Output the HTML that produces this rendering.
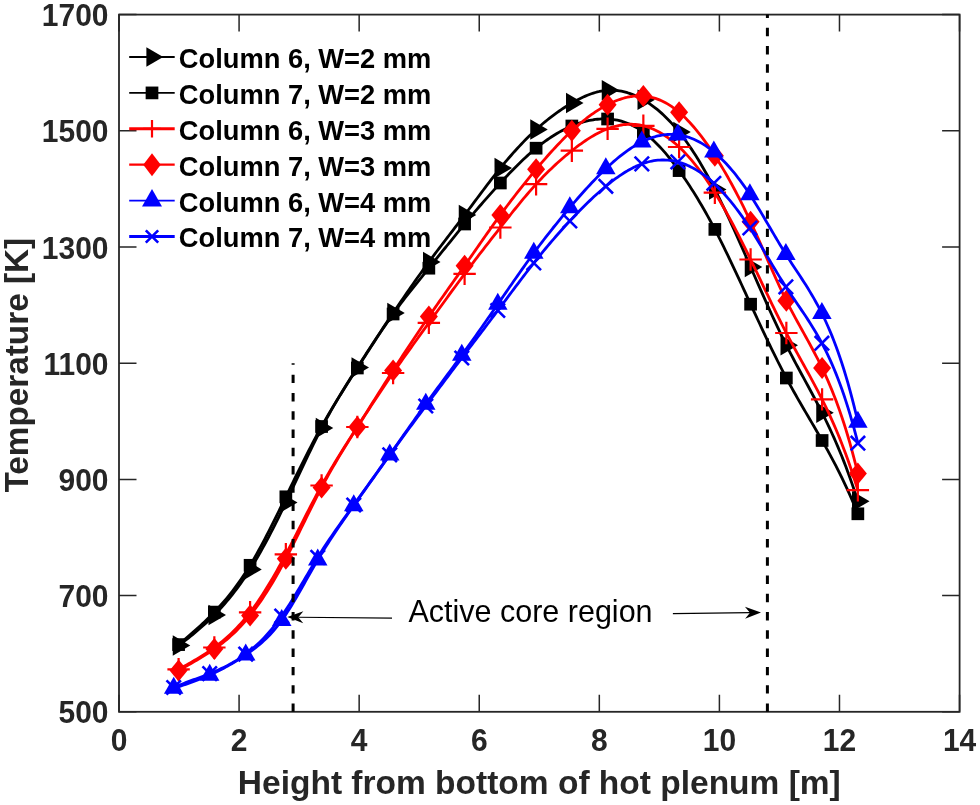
<!DOCTYPE html><html><head><meta charset="utf-8"><style>html,body{margin:0;padding:0;background:#fff;}svg{display:block;}text{font-family:"Liberation Sans",sans-serif;filter:grayscale(1);}</style></head><body>
<svg width="980" height="805" viewBox="0 0 980 805">
<rect width="980" height="805" fill="#fff"/>
<path d="M119.00,711.80V694.80M119.00,14.60V31.60M239.08,711.80V694.80M239.08,14.60V31.60M359.16,711.80V694.80M359.16,14.60V31.60M479.24,711.80V694.80M479.24,14.60V31.60M599.32,711.80V694.80M599.32,14.60V31.60M719.40,711.80V694.80M719.40,14.60V31.60M839.48,711.80V694.80M839.48,14.60V31.60M959.56,711.80V694.80M959.56,14.60V31.60M119.00,711.80H136.50M959.60,711.80H942.10M119.00,595.60H136.50M959.60,595.60H942.10M119.00,479.40H136.50M959.60,479.40H942.10M119.00,363.20H136.50M959.60,363.20H942.10M119.00,247.00H136.50M959.60,247.00H942.10M119.00,130.80H136.50M959.60,130.80H942.10M119.00,14.60H136.50M959.60,14.60H942.10" stroke="#262626" stroke-width="1.5" fill="none"/>
<rect x="119.00" y="14.60" width="840.60" height="697.20" stroke="#262626" stroke-width="1.8" fill="none"/>
<text transform="translate(119.00,751.20) scale(1,1.045)" font-size="30.00" font-weight="bold" fill="#262626" text-anchor="middle">0</text>
<text transform="translate(239.08,751.20) scale(1,1.045)" font-size="30.00" font-weight="bold" fill="#262626" text-anchor="middle">2</text>
<text transform="translate(359.16,751.20) scale(1,1.045)" font-size="30.00" font-weight="bold" fill="#262626" text-anchor="middle">4</text>
<text transform="translate(479.24,751.20) scale(1,1.045)" font-size="30.00" font-weight="bold" fill="#262626" text-anchor="middle">6</text>
<text transform="translate(599.32,751.20) scale(1,1.045)" font-size="30.00" font-weight="bold" fill="#262626" text-anchor="middle">8</text>
<text transform="translate(719.40,751.20) scale(1,1.045)" font-size="30.00" font-weight="bold" fill="#262626" text-anchor="middle">10</text>
<text transform="translate(839.48,751.20) scale(1,1.045)" font-size="30.00" font-weight="bold" fill="#262626" text-anchor="middle">12</text>
<text transform="translate(959.56,751.20) scale(1,1.045)" font-size="30.00" font-weight="bold" fill="#262626" text-anchor="middle">14</text>
<text transform="translate(108.50,723.40) scale(1,1.045)" font-size="30.00" font-weight="bold" fill="#262626" text-anchor="end">500</text>
<text transform="translate(108.50,607.20) scale(1,1.045)" font-size="30.00" font-weight="bold" fill="#262626" text-anchor="end">700</text>
<text transform="translate(108.50,491.00) scale(1,1.045)" font-size="30.00" font-weight="bold" fill="#262626" text-anchor="end">900</text>
<text transform="translate(108.50,374.80) scale(1,1.045)" font-size="30.00" font-weight="bold" fill="#262626" text-anchor="end">1100</text>
<text transform="translate(108.50,258.60) scale(1,1.045)" font-size="30.00" font-weight="bold" fill="#262626" text-anchor="end">1300</text>
<text transform="translate(108.50,142.40) scale(1,1.045)" font-size="30.00" font-weight="bold" fill="#262626" text-anchor="end">1500</text>
<text transform="translate(108.50,26.20) scale(1,1.045)" font-size="30.00" font-weight="bold" fill="#262626" text-anchor="end">1700</text>
<text transform="translate(539.30,793.90) scale(1,1.000)" font-size="33.50" font-weight="bold" fill="#262626" text-anchor="middle">Height from bottom of hot plenum [m]</text>
<text transform="translate(28.0,365.2) rotate(-90) scale(1,0.985)" font-size="33.3" font-weight="bold" fill="#262626" text-anchor="middle">Temperature [K]</text>
<path d="M178.60,645.50 L180.60,643.99 L182.61,642.47 L184.61,640.94 L186.61,639.38 L188.62,637.80 L190.62,636.20 L192.63,634.58 L194.63,632.93 L196.63,631.25 L198.64,629.55 L200.64,627.81 L202.64,626.03 L204.65,624.23 L206.65,622.38 L208.66,620.49 L210.66,618.57 L212.66,616.59 L214.67,614.58 L216.67,612.52 L218.67,610.40 L220.68,608.24 L222.68,606.02 L224.68,603.75 L226.69,601.43 L228.69,599.04 L230.70,596.60 L232.70,594.09 L234.70,591.51 L236.71,588.88 L238.71,586.17 L240.71,583.39 L242.72,580.54 L244.72,577.62 L246.73,574.62 L248.73,571.55 L250.73,568.40 L252.74,565.16 L254.74,561.85 L256.74,558.46 L258.75,555.01 L260.75,551.48 L262.75,547.88 L264.76,544.23 L266.76,540.51 L268.77,536.73 L270.77,532.89 L272.77,529.01 L274.78,525.07 L276.78,521.08 L278.78,517.05 L280.79,512.97 L282.79,508.85 L284.80,504.70 L286.80,500.51 L288.80,496.29 L290.81,492.05 L292.81,487.78 L294.81,483.51 L296.82,479.22 L298.82,474.94 L300.82,470.65 L302.83,466.38 L304.83,462.13 L306.84,457.90 L308.84,453.70 L310.84,449.53 L312.85,445.40 L314.85,441.32 L316.85,437.30 L318.86,433.33 L320.86,429.42 L322.87,425.59 L324.87,421.82 L326.87,418.12 L328.88,414.49 L330.88,410.91 L332.88,407.39 L334.89,403.92 L336.89,400.50 L338.89,397.12 L340.90,393.79 L342.90,390.49 L344.91,387.23 L346.91,384.00 L348.91,380.79 L350.92,377.61 L352.92,374.44 L354.92,371.29 L356.93,368.16 L358.93,365.03 L360.94,361.91 L362.94,358.80 L364.94,355.70 L366.95,352.60 L368.95,349.52 L370.95,346.44 L372.96,343.37 L374.96,340.31 L376.97,337.25 L378.97,334.21 L380.97,331.17 L382.98,328.15 L384.98,325.13 L386.98,322.12 L388.99,319.12 L390.99,316.14 L392.99,313.16 L395.00,310.19 L397.00,307.23 L399.01,304.28 L401.01,301.34 L403.01,298.42 L405.02,295.50 L407.02,292.60 L409.02,289.72 L411.03,286.84 L413.03,283.98 L415.04,281.14 L417.04,278.31 L419.04,275.50 L421.05,272.71 L423.05,269.93 L425.05,267.18 L427.06,264.44 L429.06,261.71 L431.06,259.01 L433.07,256.33 L435.07,253.66 L437.08,251.01 L439.08,248.36 L441.08,245.73 L443.09,243.11 L445.09,240.49 L447.09,237.88 L449.10,235.27 L451.10,232.67 L453.11,230.06 L455.11,227.45 L457.11,224.84 L459.12,222.22 L461.12,219.59 L463.12,216.95 L465.13,214.30 L467.13,211.64 L469.13,208.97 L471.14,206.30 L473.14,203.61 L475.15,200.93 L477.15,198.25 L479.15,195.57 L481.16,192.90 L483.16,190.23 L485.16,187.58 L487.17,184.94 L489.17,182.32 L491.18,179.71 L493.18,177.13 L495.18,174.57 L497.19,172.04 L499.19,169.54 L501.19,167.06 L503.20,164.62 L505.20,162.22 L507.20,159.85 L509.21,157.51 L511.21,155.21 L513.22,152.94 L515.22,150.70 L517.22,148.51 L519.23,146.34 L521.23,144.22 L523.23,142.13 L525.24,140.08 L527.24,138.06 L529.25,136.08 L531.25,134.14 L533.25,132.24 L535.26,130.37 L537.26,128.55 L539.26,126.76 L541.27,125.01 L543.27,123.30 L545.27,121.63 L547.28,120.00 L549.28,118.40 L551.29,116.84 L553.29,115.32 L555.29,113.84 L557.30,112.39 L559.30,110.99 L561.30,109.61 L563.31,108.28 L565.31,106.98 L567.32,105.72 L569.32,104.50 L571.32,103.31 L573.33,102.15 L575.33,101.04 L577.33,99.97 L579.34,98.93 L581.34,97.95 L583.34,97.01 L585.35,96.12 L587.35,95.28 L589.36,94.50 L591.36,93.77 L593.36,93.11 L595.37,92.50 L597.37,91.96 L599.37,91.49 L601.38,91.09 L603.38,90.75 L605.39,90.50 L607.39,90.31 L609.39,90.21 L611.40,90.19 L613.40,90.24 L615.40,90.37 L617.41,90.58 L619.41,90.86 L621.41,91.21 L623.42,91.64 L625.42,92.15 L627.43,92.72 L629.43,93.37 L631.43,94.09 L633.44,94.88 L635.44,95.74 L637.44,96.67 L639.45,97.67 L641.45,98.73 L643.46,99.86 L645.46,101.06 L647.46,102.32 L649.47,103.66 L651.47,105.06 L653.47,106.53 L655.48,108.07 L657.48,109.69 L659.48,111.38 L661.49,113.14 L663.49,114.98 L665.50,116.89 L667.50,118.89 L669.50,120.96 L671.51,123.11 L673.51,125.34 L675.51,127.65 L677.52,130.05 L679.52,132.53 L681.53,135.09 L683.53,137.74 L685.53,140.47 L687.54,143.28 L689.54,146.18 L691.54,149.15 L693.55,152.21 L695.55,155.35 L697.56,158.56 L699.56,161.85 L701.56,165.23 L703.57,168.67 L705.57,172.20 L707.57,175.80 L709.58,179.47 L711.58,183.22 L713.58,187.05 L715.59,190.94 L717.59,194.91 L719.60,198.95 L721.60,203.04 L723.60,207.20 L725.61,211.41 L727.61,215.68 L729.61,219.99 L731.62,224.34 L733.62,228.74 L735.63,233.17 L737.63,237.63 L739.63,242.12 L741.64,246.63 L743.64,251.16 L745.64,255.71 L747.65,260.27 L749.65,264.84 L751.65,269.41 L753.66,273.98 L755.66,278.54 L757.67,283.10 L759.67,287.65 L761.67,292.18 L763.68,296.69 L765.68,301.18 L767.68,305.64 L769.69,310.07 L771.69,314.47 L773.70,318.82 L775.70,323.14 L777.70,327.41 L779.71,331.62 L781.71,335.79 L783.71,339.89 L785.72,343.94 L787.72,347.92 L789.72,351.83 L791.73,355.70 L793.73,359.51 L795.74,363.29 L797.74,367.03 L799.74,370.75 L801.75,374.46 L803.75,378.15 L805.75,381.84 L807.76,385.54 L809.76,389.24 L811.77,392.97 L813.77,396.73 L815.77,400.52 L817.78,404.35 L819.78,408.23 L821.78,412.17 L823.79,416.18 L825.79,420.25 L827.79,424.41 L829.80,428.65 L831.80,432.98 L833.81,437.42 L835.81,441.97 L837.81,446.63 L839.82,451.42 L841.82,456.34 L843.82,461.39 L845.83,466.60 L847.83,471.95 L849.84,477.47 L851.84,483.16 L853.84,489.02 L855.85,495.06 L857.85,501.30" stroke="#000" stroke-width="2.8" fill="none" stroke-linejoin="round"/>
<g><polygon points="172.77,635.25 172.77,655.75 190.27,645.50" fill="#000"/><polygon points="208.52,604.65 208.52,625.15 226.02,614.90" fill="#000"/><polygon points="244.27,559.15 244.27,579.65 261.77,569.40" fill="#000"/><polygon points="280.02,492.25 280.02,512.75 297.52,502.50" fill="#000"/><polygon points="315.77,417.75 315.77,438.25 333.27,428.00" fill="#000"/><polygon points="351.52,357.25 351.52,377.75 369.02,367.50" fill="#000"/><polygon points="387.27,302.75 387.27,323.25 404.77,313.00" fill="#000"/><polygon points="423.02,251.75 423.02,272.25 440.52,262.00" fill="#000"/><polygon points="458.77,204.75 458.77,225.25 476.27,215.00" fill="#000"/><polygon points="494.52,157.85 494.52,178.35 512.02,168.10" fill="#000"/><polygon points="530.27,119.35 530.27,139.85 547.77,129.60" fill="#000"/><polygon points="566.02,92.75 566.02,113.25 583.52,103.00" fill="#000"/><polygon points="601.77,80.05 601.77,100.55 619.27,90.30" fill="#000"/><polygon points="637.52,89.55 637.52,110.05 655.02,99.80" fill="#000"/><polygon points="673.27,121.75 673.27,142.25 690.77,132.00" fill="#000"/><polygon points="709.02,179.25 709.02,199.75 726.52,189.50" fill="#000"/><polygon points="744.77,256.75 744.77,277.25 762.27,267.00" fill="#000"/><polygon points="780.52,334.95 780.52,355.45 798.02,345.20" fill="#000"/><polygon points="816.27,402.55 816.27,423.05 833.77,412.80" fill="#000"/><polygon points="852.02,491.05 852.02,511.55 869.52,501.30" fill="#000"/></g>
<path d="M178.60,644.60 L180.60,642.90 L182.61,641.21 L184.61,639.51 L186.61,637.80 L188.62,636.09 L190.62,634.36 L192.63,632.62 L194.63,630.86 L196.63,629.08 L198.64,627.28 L200.64,625.45 L202.64,623.60 L204.65,621.72 L206.65,619.80 L208.66,617.85 L210.66,615.87 L212.66,613.84 L214.67,611.77 L216.67,609.65 L218.67,607.49 L220.68,605.28 L222.68,603.01 L224.68,600.69 L226.69,598.31 L228.69,595.87 L230.70,593.36 L232.70,590.79 L234.70,588.15 L236.71,585.44 L238.71,582.66 L240.71,579.79 L242.72,576.85 L244.72,573.83 L246.73,570.73 L248.73,567.54 L250.73,564.25 L252.74,560.88 L254.74,557.43 L256.74,553.89 L258.75,550.29 L260.75,546.61 L262.75,542.87 L264.76,539.07 L266.76,535.21 L268.77,531.31 L270.77,527.37 L272.77,523.38 L274.78,519.37 L276.78,515.32 L278.78,511.25 L280.79,507.17 L282.79,503.07 L284.80,498.96 L286.80,494.85 L288.80,490.75 L290.81,486.64 L292.81,482.55 L294.81,478.47 L296.82,474.40 L298.82,470.35 L300.82,466.32 L302.83,462.31 L304.83,458.33 L306.84,454.38 L308.84,450.46 L310.84,446.58 L312.85,442.74 L314.85,438.94 L316.85,435.19 L318.86,431.48 L320.86,427.83 L322.87,424.23 L324.87,420.69 L326.87,417.20 L328.88,413.75 L330.88,410.35 L332.88,406.99 L334.89,403.67 L336.89,400.39 L338.89,397.13 L340.90,393.90 L342.90,390.69 L344.91,387.51 L346.91,384.34 L348.91,381.19 L350.92,378.05 L352.92,374.92 L354.92,371.79 L356.93,368.66 L358.93,365.53 L360.94,362.40 L362.94,359.27 L364.94,356.14 L366.95,353.02 L368.95,349.91 L370.95,346.81 L372.96,343.72 L374.96,340.65 L376.97,337.60 L378.97,334.57 L380.97,331.56 L382.98,328.58 L384.98,325.63 L386.98,322.70 L388.99,319.81 L390.99,316.96 L392.99,314.15 L395.00,311.37 L397.00,308.64 L399.01,305.94 L401.01,303.27 L403.01,300.63 L405.02,298.02 L407.02,295.44 L409.02,292.88 L411.03,290.34 L413.03,287.81 L415.04,285.30 L417.04,282.81 L419.04,280.32 L421.05,277.84 L423.05,275.37 L425.05,272.89 L427.06,270.42 L429.06,267.94 L431.06,265.46 L433.07,262.97 L435.07,260.47 L437.08,257.98 L439.08,255.48 L441.08,252.99 L443.09,250.49 L445.09,248.00 L447.09,245.50 L449.10,243.01 L451.10,240.53 L453.11,238.05 L455.11,235.58 L457.11,233.12 L459.12,230.66 L461.12,228.22 L463.12,225.79 L465.13,223.36 L467.13,220.96 L469.13,218.56 L471.14,216.18 L473.14,213.81 L475.15,211.45 L477.15,209.11 L479.15,206.78 L481.16,204.46 L483.16,202.16 L485.16,199.87 L487.17,197.60 L489.17,195.34 L491.18,193.10 L493.18,190.86 L495.18,188.65 L497.19,186.45 L499.19,184.26 L501.19,182.09 L503.20,179.93 L505.20,177.79 L507.20,175.67 L509.21,173.57 L511.21,171.49 L513.22,169.44 L515.22,167.41 L517.22,165.41 L519.23,163.44 L521.23,161.50 L523.23,159.59 L525.24,157.71 L527.24,155.87 L529.25,154.07 L531.25,152.30 L533.25,150.58 L535.26,148.90 L537.26,147.26 L539.26,145.66 L541.27,144.11 L543.27,142.60 L545.27,141.14 L547.28,139.73 L549.28,138.35 L551.29,137.02 L553.29,135.74 L555.29,134.50 L557.30,133.31 L559.30,132.16 L561.30,131.06 L563.31,130.00 L565.31,128.99 L567.32,128.02 L569.32,127.10 L571.32,126.22 L573.33,125.39 L575.33,124.61 L577.33,123.87 L579.34,123.18 L581.34,122.54 L583.34,121.95 L585.35,121.40 L587.35,120.91 L589.36,120.48 L591.36,120.09 L593.36,119.76 L595.37,119.48 L597.37,119.25 L599.37,119.09 L601.38,118.97 L603.38,118.92 L605.39,118.93 L607.39,118.99 L609.39,119.11 L611.40,119.30 L613.40,119.55 L615.40,119.86 L617.41,120.24 L619.41,120.69 L621.41,121.21 L623.42,121.80 L625.42,122.47 L627.43,123.21 L629.43,124.03 L631.43,124.93 L633.44,125.91 L635.44,126.97 L637.44,128.11 L639.45,129.35 L641.45,130.67 L643.46,132.08 L645.46,133.58 L647.46,135.17 L649.47,136.85 L651.47,138.61 L653.47,140.46 L655.48,142.39 L657.48,144.39 L659.48,146.48 L661.49,148.64 L663.49,150.88 L665.50,153.18 L667.50,155.56 L669.50,158.01 L671.51,160.52 L673.51,163.09 L675.51,165.73 L677.52,168.43 L679.52,171.18 L681.53,174.00 L683.53,176.87 L685.53,179.80 L687.54,182.78 L689.54,185.82 L691.54,188.93 L693.55,192.09 L695.55,195.30 L697.56,198.58 L699.56,201.92 L701.56,205.32 L703.57,208.78 L705.57,212.30 L707.57,215.88 L709.58,219.52 L711.58,223.22 L713.58,226.99 L715.59,230.82 L717.59,234.71 L719.60,238.65 L721.60,242.65 L723.60,246.70 L725.61,250.80 L727.61,254.93 L729.61,259.11 L731.62,263.32 L733.62,267.56 L735.63,271.83 L737.63,276.12 L739.63,280.43 L741.64,284.76 L743.64,289.09 L745.64,293.44 L747.65,297.79 L749.65,302.14 L751.65,306.49 L753.66,310.83 L755.66,315.16 L757.67,319.47 L759.67,323.77 L761.67,328.06 L763.68,332.32 L765.68,336.55 L767.68,340.75 L769.69,344.93 L771.69,349.07 L773.70,353.17 L775.70,357.23 L777.70,361.25 L779.71,365.21 L781.71,369.13 L783.71,373.00 L785.72,376.81 L787.72,380.56 L789.72,384.25 L791.73,387.90 L793.73,391.49 L795.74,395.05 L797.74,398.57 L799.74,402.06 L801.75,405.52 L803.75,408.96 L805.75,412.39 L807.76,415.81 L809.76,419.23 L811.77,422.65 L813.77,426.07 L815.77,429.51 L817.78,432.96 L819.78,436.44 L821.78,439.94 L823.79,443.48 L825.79,447.06 L827.79,450.68 L829.80,454.34 L831.80,458.07 L833.81,461.85 L835.81,465.70 L837.81,469.61 L839.82,473.60 L841.82,477.68 L843.82,481.84 L845.83,486.09 L847.83,490.43 L849.84,494.88 L851.84,499.44 L853.84,504.11 L855.85,508.89 L857.85,513.80" stroke="#000" stroke-width="2.8" fill="none" stroke-linejoin="round"/>
<g><rect x="172.25" y="638.25" width="12.70" height="12.70" fill="#000"/><rect x="208.00" y="605.75" width="12.70" height="12.70" fill="#000"/><rect x="243.75" y="558.95" width="12.70" height="12.70" fill="#000"/><rect x="279.50" y="490.45" width="12.70" height="12.70" fill="#000"/><rect x="315.25" y="420.15" width="12.70" height="12.70" fill="#000"/><rect x="351.00" y="361.65" width="12.70" height="12.70" fill="#000"/><rect x="386.75" y="307.65" width="12.70" height="12.70" fill="#000"/><rect x="422.50" y="261.85" width="12.70" height="12.70" fill="#000"/><rect x="458.25" y="217.65" width="12.70" height="12.70" fill="#000"/><rect x="494.00" y="176.65" width="12.70" height="12.70" fill="#000"/><rect x="529.75" y="141.85" width="12.70" height="12.70" fill="#000"/><rect x="565.50" y="119.65" width="12.70" height="12.70" fill="#000"/><rect x="601.25" y="112.65" width="12.70" height="12.70" fill="#000"/><rect x="637.00" y="125.65" width="12.70" height="12.70" fill="#000"/><rect x="672.75" y="164.25" width="12.70" height="12.70" fill="#000"/><rect x="708.50" y="223.05" width="12.70" height="12.70" fill="#000"/><rect x="744.25" y="297.85" width="12.70" height="12.70" fill="#000"/><rect x="780.00" y="371.65" width="12.70" height="12.70" fill="#000"/><rect x="815.75" y="434.15" width="12.70" height="12.70" fill="#000"/><rect x="851.50" y="507.45" width="12.70" height="12.70" fill="#000"/></g>
<path d="M178.60,669.30 L180.60,668.19 L182.61,667.09 L184.61,665.98 L186.61,664.86 L188.62,663.74 L190.62,662.60 L192.63,661.45 L194.63,660.29 L196.63,659.11 L198.64,657.91 L200.64,656.68 L202.64,655.43 L204.65,654.16 L206.65,652.85 L208.66,651.51 L210.66,650.13 L212.66,648.72 L214.67,647.27 L216.67,645.77 L218.67,644.23 L220.68,642.64 L222.68,641.01 L224.68,639.32 L226.69,637.57 L228.69,635.77 L230.70,633.91 L232.70,631.98 L234.70,630.00 L236.71,627.94 L238.71,625.82 L240.71,623.62 L242.72,621.35 L244.72,619.00 L246.73,616.57 L248.73,614.06 L250.73,611.47 L252.74,608.79 L254.74,606.03 L256.74,603.19 L258.75,600.27 L260.75,597.28 L262.75,594.21 L264.76,591.07 L266.76,587.86 L268.77,584.59 L270.77,581.25 L272.77,577.85 L274.78,574.39 L276.78,570.87 L278.78,567.30 L280.79,563.67 L282.79,560.00 L284.80,556.28 L286.80,552.51 L288.80,548.70 L290.81,544.86 L292.81,540.98 L294.81,537.08 L296.82,533.17 L298.82,529.24 L300.82,525.30 L302.83,521.36 L304.83,517.43 L306.84,513.51 L308.84,509.60 L310.84,505.72 L312.85,501.87 L314.85,498.05 L316.85,494.26 L318.86,490.53 L320.86,486.84 L322.87,483.22 L324.87,479.64 L326.87,476.13 L328.88,472.66 L330.88,469.24 L332.88,465.87 L334.89,462.53 L336.89,459.24 L338.89,455.98 L340.90,452.75 L342.90,449.54 L344.91,446.37 L346.91,443.21 L348.91,440.08 L350.92,436.95 L352.92,433.85 L354.92,430.75 L356.93,427.65 L358.93,424.56 L360.94,421.47 L362.94,418.38 L364.94,415.30 L366.95,412.23 L368.95,409.16 L370.95,406.09 L372.96,403.04 L374.96,400.00 L376.97,396.96 L378.97,393.94 L380.97,390.92 L382.98,387.92 L384.98,384.94 L386.98,381.97 L388.99,379.01 L390.99,376.07 L392.99,373.15 L395.00,370.25 L397.00,367.37 L399.01,364.50 L401.01,361.64 L403.01,358.80 L405.02,355.98 L407.02,353.16 L409.02,350.35 L411.03,347.56 L413.03,344.77 L415.04,341.99 L417.04,339.21 L419.04,336.44 L421.05,333.67 L423.05,330.91 L425.05,328.14 L427.06,325.38 L429.06,322.61 L431.06,319.84 L433.07,317.07 L435.07,314.30 L437.08,311.52 L439.08,308.75 L441.08,305.98 L443.09,303.22 L445.09,300.46 L447.09,297.70 L449.10,294.94 L451.10,292.19 L453.11,289.45 L455.11,286.72 L457.11,283.99 L459.12,281.28 L461.12,278.57 L463.12,275.88 L465.13,273.20 L467.13,270.52 L469.13,267.87 L471.14,265.22 L473.14,262.58 L475.15,259.95 L477.15,257.33 L479.15,254.72 L481.16,252.12 L483.16,249.53 L485.16,246.94 L487.17,244.36 L489.17,241.79 L491.18,239.22 L493.18,236.65 L495.18,234.09 L497.19,231.53 L499.19,228.98 L501.19,226.43 L503.20,223.88 L505.20,221.33 L507.20,218.79 L509.21,216.26 L511.21,213.75 L513.22,211.24 L515.22,208.75 L517.22,206.28 L519.23,203.83 L521.23,201.39 L523.23,198.98 L525.24,196.60 L527.24,194.24 L529.25,191.91 L531.25,189.62 L533.25,187.35 L535.26,185.13 L537.26,182.94 L539.26,180.78 L541.27,178.67 L543.27,176.59 L545.27,174.55 L547.28,172.54 L549.28,170.58 L551.29,168.64 L553.29,166.74 L555.29,164.88 L557.30,163.04 L559.30,161.24 L561.30,159.48 L563.31,157.74 L565.31,156.04 L567.32,154.37 L569.32,152.73 L571.32,151.12 L573.33,149.54 L575.33,147.99 L577.33,146.47 L579.34,144.99 L581.34,143.54 L583.34,142.14 L585.35,140.77 L587.35,139.44 L589.36,138.16 L591.36,136.92 L593.36,135.74 L595.37,134.59 L597.37,133.50 L599.37,132.47 L601.38,131.48 L603.38,130.56 L605.39,129.69 L607.39,128.88 L609.39,128.13 L611.40,127.45 L613.40,126.83 L615.40,126.27 L617.41,125.78 L619.41,125.36 L621.41,125.00 L623.42,124.72 L625.42,124.50 L627.43,124.35 L629.43,124.27 L631.43,124.27 L633.44,124.34 L635.44,124.49 L637.44,124.70 L639.45,125.00 L641.45,125.37 L643.46,125.83 L645.46,126.36 L647.46,126.97 L649.47,127.66 L651.47,128.42 L653.47,129.27 L655.48,130.19 L657.48,131.20 L659.48,132.28 L661.49,133.44 L663.49,134.68 L665.50,136.00 L667.50,137.39 L669.50,138.87 L671.51,140.42 L673.51,142.05 L675.51,143.75 L677.52,145.54 L679.52,147.40 L681.53,149.34 L683.53,151.35 L685.53,153.45 L687.54,155.62 L689.54,157.86 L691.54,160.18 L693.55,162.58 L695.55,165.05 L697.56,167.60 L699.56,170.23 L701.56,172.93 L703.57,175.70 L705.57,178.55 L707.57,181.47 L709.58,184.46 L711.58,187.53 L713.58,190.68 L715.59,193.89 L717.59,197.18 L719.60,200.54 L721.60,203.96 L723.60,207.45 L725.61,211.00 L727.61,214.62 L729.61,218.28 L731.62,222.01 L733.62,225.78 L735.63,229.60 L737.63,233.48 L739.63,237.39 L741.64,241.35 L743.64,245.35 L745.64,249.38 L747.65,253.45 L749.65,257.55 L751.65,261.68 L753.66,265.83 L755.66,270.01 L757.67,274.20 L759.67,278.40 L761.67,282.61 L763.68,286.82 L765.68,291.03 L767.68,295.22 L769.69,299.41 L771.69,303.57 L773.70,307.71 L775.70,311.82 L777.70,315.90 L779.71,319.94 L781.71,323.94 L783.71,327.89 L785.72,331.78 L787.72,335.62 L789.72,339.40 L791.73,343.14 L793.73,346.84 L795.74,350.50 L797.74,354.15 L799.74,357.77 L801.75,361.39 L803.75,365.01 L805.75,368.63 L807.76,372.27 L809.76,375.92 L811.77,379.61 L813.77,383.34 L815.77,387.11 L817.78,390.93 L819.78,394.82 L821.78,398.77 L823.79,402.80 L825.79,406.91 L827.79,411.11 L829.80,415.41 L831.80,419.81 L833.81,424.33 L835.81,428.97 L837.81,433.74 L839.82,438.64 L841.82,443.69 L843.82,448.90 L845.83,454.26 L847.83,459.78 L849.84,465.49 L851.84,471.37 L853.84,477.45 L855.85,483.72 L857.85,490.20" stroke="#f00" stroke-width="2.8" fill="none" stroke-linejoin="round"/>
<g><path d="M167.40,669.30H189.80M178.60,658.10V680.50" stroke="#f00" stroke-width="2.2" fill="none"/><path d="M203.15,647.50H225.55M214.35,636.30V658.70" stroke="#f00" stroke-width="2.2" fill="none"/><path d="M238.90,612.30H261.30M250.10,601.10V623.50" stroke="#f00" stroke-width="2.2" fill="none"/><path d="M274.65,554.30H297.05M285.85,543.10V565.50" stroke="#f00" stroke-width="2.2" fill="none"/><path d="M310.40,485.50H332.80M321.60,474.30V496.70" stroke="#f00" stroke-width="2.2" fill="none"/><path d="M346.15,427.00H368.55M357.35,415.80V438.20" stroke="#f00" stroke-width="2.2" fill="none"/><path d="M381.90,373.00H404.30M393.10,361.80V384.20" stroke="#f00" stroke-width="2.2" fill="none"/><path d="M417.65,322.90H440.05M428.85,311.70V334.10" stroke="#f00" stroke-width="2.2" fill="none"/><path d="M453.40,273.90H475.80M464.60,262.70V285.10" stroke="#f00" stroke-width="2.2" fill="none"/><path d="M489.15,227.50H511.55M500.35,216.30V238.70" stroke="#f00" stroke-width="2.2" fill="none"/><path d="M524.90,184.20H547.30M536.10,173.00V195.40" stroke="#f00" stroke-width="2.2" fill="none"/><path d="M560.65,150.70H583.05M571.85,139.50V161.90" stroke="#f00" stroke-width="2.2" fill="none"/><path d="M596.40,128.80H618.80M607.60,117.60V140.00" stroke="#f00" stroke-width="2.2" fill="none"/><path d="M632.15,125.80H654.55M643.35,114.60V137.00" stroke="#f00" stroke-width="2.2" fill="none"/><path d="M667.90,147.00H690.30M679.10,135.80V158.20" stroke="#f00" stroke-width="2.2" fill="none"/><path d="M703.65,192.70H726.05M714.85,181.50V203.90" stroke="#f00" stroke-width="2.2" fill="none"/><path d="M739.40,259.50H761.80M750.60,248.30V270.70" stroke="#f00" stroke-width="2.2" fill="none"/><path d="M775.15,333.00H797.55M786.35,321.80V344.20" stroke="#f00" stroke-width="2.2" fill="none"/><path d="M810.90,399.40H833.30M822.10,388.20V410.60" stroke="#f00" stroke-width="2.2" fill="none"/><path d="M846.65,490.20H869.05M857.85,479.00V501.40" stroke="#f00" stroke-width="2.2" fill="none"/></g>
<path d="M178.60,670.50 L180.60,669.36 L182.61,668.22 L184.61,667.09 L186.61,665.96 L188.62,664.82 L190.62,663.69 L192.63,662.54 L194.63,661.39 L196.63,660.23 L198.64,659.05 L200.64,657.85 L202.64,656.63 L204.65,655.40 L206.65,654.13 L208.66,652.84 L210.66,651.52 L212.66,650.17 L214.67,648.78 L216.67,647.35 L218.67,645.88 L220.68,644.37 L222.68,642.81 L224.68,641.21 L226.69,639.55 L228.69,637.84 L230.70,636.07 L232.70,634.24 L234.70,632.36 L236.71,630.40 L238.71,628.38 L240.71,626.29 L242.72,624.13 L244.72,621.89 L246.73,619.58 L248.73,617.19 L250.73,614.71 L252.74,612.15 L254.74,609.50 L256.74,606.78 L258.75,603.97 L260.75,601.09 L262.75,598.12 L264.76,595.08 L266.76,591.96 L268.77,588.77 L270.77,585.51 L272.77,582.17 L274.78,578.76 L276.78,575.28 L278.78,571.74 L280.79,568.12 L282.79,564.44 L284.80,560.70 L286.80,556.89 L288.80,553.02 L290.81,549.10 L292.81,545.13 L294.81,541.12 L296.82,537.09 L298.82,533.03 L300.82,528.95 L302.83,524.87 L304.83,520.78 L306.84,516.70 L308.84,512.63 L310.84,508.58 L312.85,504.56 L314.85,500.58 L316.85,496.63 L318.86,492.74 L320.86,488.90 L322.87,485.12 L324.87,481.41 L326.87,477.76 L328.88,474.17 L330.88,470.63 L332.88,467.13 L334.89,463.69 L336.89,460.28 L338.89,456.91 L340.90,453.58 L342.90,450.27 L344.91,447.00 L346.91,443.74 L348.91,440.50 L350.92,437.28 L352.92,434.07 L354.92,430.87 L356.93,427.67 L358.93,424.48 L360.94,421.28 L362.94,418.08 L364.94,414.88 L366.95,411.69 L368.95,408.49 L370.95,405.30 L372.96,402.12 L374.96,398.93 L376.97,395.75 L378.97,392.58 L380.97,389.41 L382.98,386.25 L384.98,383.10 L386.98,379.95 L388.99,376.81 L390.99,373.68 L392.99,370.56 L395.00,367.45 L397.00,364.35 L399.01,361.27 L401.01,358.19 L403.01,355.12 L405.02,352.06 L407.02,349.02 L409.02,345.98 L411.03,342.96 L413.03,339.95 L415.04,336.95 L417.04,333.96 L419.04,330.99 L421.05,328.02 L423.05,325.07 L425.05,322.13 L427.06,319.21 L429.06,316.29 L431.06,313.39 L433.07,310.51 L435.07,307.63 L437.08,304.76 L439.08,301.90 L441.08,299.05 L443.09,296.20 L445.09,293.36 L447.09,290.52 L449.10,287.68 L451.10,284.85 L453.11,282.01 L455.11,279.18 L457.11,276.34 L459.12,273.50 L461.12,270.65 L463.12,267.80 L465.13,264.95 L467.13,262.08 L469.13,259.21 L471.14,256.34 L473.14,253.46 L475.15,250.59 L477.15,247.71 L479.15,244.84 L481.16,241.97 L483.16,239.11 L485.16,236.25 L487.17,233.40 L489.17,230.57 L491.18,227.74 L493.18,224.93 L495.18,222.13 L497.19,219.35 L499.19,216.59 L501.19,213.85 L503.20,211.13 L505.20,208.43 L507.20,205.75 L509.21,203.09 L511.21,200.45 L513.22,197.83 L515.22,195.23 L517.22,192.65 L519.23,190.09 L521.23,187.55 L523.23,185.03 L525.24,182.53 L527.24,180.05 L529.25,177.58 L531.25,175.14 L533.25,172.71 L535.26,170.31 L537.26,167.92 L539.26,165.55 L541.27,163.20 L543.27,160.88 L545.27,158.57 L547.28,156.29 L549.28,154.04 L551.29,151.81 L553.29,149.61 L555.29,147.44 L557.30,145.30 L559.30,143.20 L561.30,141.12 L563.31,139.08 L565.31,137.08 L567.32,135.11 L569.32,133.18 L571.32,131.29 L573.33,129.44 L575.33,127.63 L577.33,125.87 L579.34,124.14 L581.34,122.46 L583.34,120.83 L585.35,119.23 L587.35,117.69 L589.36,116.18 L591.36,114.73 L593.36,113.32 L595.37,111.96 L597.37,110.64 L599.37,109.38 L601.38,108.16 L603.38,106.99 L605.39,105.88 L607.39,104.81 L609.39,103.79 L611.40,102.83 L613.40,101.92 L615.40,101.07 L617.41,100.28 L619.41,99.55 L621.41,98.87 L623.42,98.26 L625.42,97.72 L627.43,97.24 L629.43,96.83 L631.43,96.49 L633.44,96.22 L635.44,96.03 L637.44,95.90 L639.45,95.86 L641.45,95.89 L643.46,96.01 L645.46,96.20 L647.46,96.48 L649.47,96.84 L651.47,97.28 L653.47,97.81 L655.48,98.42 L657.48,99.12 L659.48,99.90 L661.49,100.77 L663.49,101.73 L665.50,102.77 L667.50,103.90 L669.50,105.12 L671.51,106.43 L673.51,107.82 L675.51,109.31 L677.52,110.89 L679.52,112.56 L681.53,114.32 L683.53,116.17 L685.53,118.11 L687.54,120.14 L689.54,122.25 L691.54,124.44 L693.55,126.72 L695.55,129.08 L697.56,131.52 L699.56,134.04 L701.56,136.64 L703.57,139.31 L705.57,142.05 L707.57,144.87 L709.58,147.76 L711.58,150.72 L713.58,153.75 L715.59,156.85 L717.59,160.01 L719.60,163.24 L721.60,166.54 L723.60,169.90 L725.61,173.33 L727.61,176.82 L729.61,180.39 L731.62,184.02 L733.62,187.72 L735.63,191.48 L737.63,195.32 L739.63,199.22 L741.64,203.19 L743.64,207.23 L745.64,211.34 L747.65,215.52 L749.65,219.76 L751.65,224.08 L753.66,228.46 L755.66,232.89 L757.67,237.37 L759.67,241.89 L761.67,246.43 L763.68,250.98 L765.68,255.54 L767.68,260.10 L769.69,264.65 L771.69,269.18 L773.70,273.67 L775.70,278.12 L777.70,282.52 L779.71,286.86 L781.71,291.13 L783.71,295.32 L785.72,299.42 L787.72,303.43 L789.72,307.34 L791.73,311.17 L793.73,314.93 L795.74,318.63 L797.74,322.29 L799.74,325.92 L801.75,329.53 L803.75,333.14 L805.75,336.75 L807.76,340.38 L809.76,344.04 L811.77,347.74 L813.77,351.50 L815.77,355.33 L817.78,359.23 L819.78,363.23 L821.78,367.34 L823.79,371.57 L825.79,375.92 L827.79,380.42 L829.80,385.07 L831.80,389.89 L833.81,394.90 L835.81,400.09 L837.81,405.49 L839.82,411.11 L841.82,416.95 L843.82,423.04 L845.83,429.39 L847.83,436.00 L849.84,442.89 L851.84,450.07 L853.84,457.56 L855.85,465.37 L857.85,473.50" stroke="#f00" stroke-width="2.8" fill="none" stroke-linejoin="round"/>
<g><polygon points="178.60,659.50 187.60,670.50 178.60,681.50 169.60,670.50" fill="#f00"/><polygon points="214.35,638.00 223.35,649.00 214.35,660.00 205.35,649.00" fill="#f00"/><polygon points="250.10,604.50 259.10,615.50 250.10,626.50 241.10,615.50" fill="#f00"/><polygon points="285.85,547.70 294.85,558.70 285.85,569.70 276.85,558.70" fill="#f00"/><polygon points="321.60,476.50 330.60,487.50 321.60,498.50 312.60,487.50" fill="#f00"/><polygon points="357.35,416.00 366.35,427.00 357.35,438.00 348.35,427.00" fill="#f00"/><polygon points="393.10,359.40 402.10,370.40 393.10,381.40 384.10,370.40" fill="#f00"/><polygon points="428.85,305.60 437.85,316.60 428.85,327.60 419.85,316.60" fill="#f00"/><polygon points="464.60,254.70 473.60,265.70 464.60,276.70 455.60,265.70" fill="#f00"/><polygon points="500.35,204.00 509.35,215.00 500.35,226.00 491.35,215.00" fill="#f00"/><polygon points="536.10,158.30 545.10,169.30 536.10,180.30 527.10,169.30" fill="#f00"/><polygon points="571.85,119.80 580.85,130.80 571.85,141.80 562.85,130.80" fill="#f00"/><polygon points="607.60,93.70 616.60,104.70 607.60,115.70 598.60,104.70" fill="#f00"/><polygon points="643.35,85.00 652.35,96.00 643.35,107.00 634.35,96.00" fill="#f00"/><polygon points="679.10,101.20 688.10,112.20 679.10,123.20 670.10,112.20" fill="#f00"/><polygon points="714.85,144.70 723.85,155.70 714.85,166.70 705.85,155.70" fill="#f00"/><polygon points="750.60,210.80 759.60,221.80 750.60,232.80 741.60,221.80" fill="#f00"/><polygon points="786.35,289.70 795.35,300.70 786.35,311.70 777.35,300.70" fill="#f00"/><polygon points="822.10,357.00 831.10,368.00 822.10,379.00 813.10,368.00" fill="#f00"/><polygon points="857.85,462.50 866.85,473.50 857.85,484.50 848.85,473.50" fill="#f00"/></g>
<path d="M173.70,688.10 L175.70,687.51 L177.70,686.91 L179.70,686.30 L181.70,685.67 L183.70,685.02 L185.70,684.36 L187.70,683.68 L189.70,682.98 L191.70,682.27 L193.71,681.54 L195.71,680.79 L197.71,680.02 L199.71,679.23 L201.71,678.43 L203.71,677.60 L205.71,676.76 L207.71,675.89 L209.71,675.00 L211.71,674.09 L213.71,673.16 L215.71,672.20 L217.71,671.23 L219.71,670.23 L221.71,669.20 L223.71,668.15 L225.71,667.08 L227.71,665.98 L229.72,664.86 L231.72,663.71 L233.72,662.53 L235.72,661.33 L237.72,660.10 L239.72,658.84 L241.72,657.56 L243.72,656.24 L245.72,654.90 L247.72,653.53 L249.72,652.12 L251.72,650.67 L253.72,649.18 L255.72,647.63 L257.72,646.03 L259.72,644.37 L261.72,642.64 L263.72,640.83 L265.73,638.95 L267.73,636.98 L269.73,634.93 L271.73,632.77 L273.73,630.52 L275.73,628.16 L277.73,625.70 L279.73,623.11 L281.73,620.40 L283.73,617.57 L285.73,614.61 L287.73,611.56 L289.73,608.40 L291.73,605.16 L293.73,601.84 L295.73,598.46 L297.73,595.02 L299.73,591.54 L301.74,588.02 L303.74,584.48 L305.74,580.93 L307.74,577.37 L309.74,573.82 L311.74,570.29 L313.74,566.78 L315.74,563.32 L317.74,559.90 L319.74,556.54 L321.74,553.24 L323.74,549.99 L325.74,546.79 L327.74,543.63 L329.74,540.52 L331.74,537.46 L333.74,534.42 L335.74,531.43 L337.75,528.46 L339.75,525.53 L341.75,522.61 L343.75,519.72 L345.75,516.85 L347.75,514.00 L349.75,511.16 L351.75,508.33 L353.75,505.50 L355.75,502.68 L357.75,499.86 L359.75,497.04 L361.75,494.23 L363.75,491.42 L365.75,488.61 L367.75,485.80 L369.75,482.99 L371.75,480.18 L373.76,477.36 L375.76,474.55 L377.76,471.74 L379.76,468.92 L381.76,466.11 L383.76,463.28 L385.76,460.46 L387.76,457.63 L389.76,454.80 L391.76,451.96 L393.76,449.12 L395.76,446.28 L397.76,443.43 L399.76,440.59 L401.76,437.74 L403.76,434.90 L405.76,432.06 L407.76,429.22 L409.77,426.39 L411.77,423.56 L413.77,420.74 L415.77,417.92 L417.77,415.12 L419.77,412.32 L421.77,409.54 L423.77,406.76 L425.77,404.00 L427.77,401.25 L429.77,398.52 L431.77,395.79 L433.77,393.07 L435.77,390.37 L437.77,387.66 L439.77,384.97 L441.77,382.27 L443.77,379.58 L445.78,376.89 L447.78,374.20 L449.78,371.50 L451.78,368.80 L453.78,366.10 L455.78,363.39 L457.78,360.67 L459.78,357.94 L461.78,355.20 L463.78,352.45 L465.78,349.68 L467.78,346.91 L469.78,344.12 L471.78,341.32 L473.78,338.51 L475.78,335.70 L477.78,332.87 L479.78,330.03 L481.79,327.19 L483.79,324.34 L485.79,321.48 L487.79,318.61 L489.79,315.74 L491.79,312.86 L493.79,309.98 L495.79,307.09 L497.79,304.20 L499.79,301.30 L501.79,298.41 L503.79,295.51 L505.79,292.61 L507.79,289.72 L509.79,286.82 L511.79,283.94 L513.79,281.06 L515.79,278.19 L517.80,275.33 L519.80,272.48 L521.80,269.65 L523.80,266.83 L525.80,264.02 L527.80,261.24 L529.80,258.47 L531.80,255.72 L533.80,253.00 L535.80,250.30 L537.80,247.62 L539.80,244.97 L541.80,242.34 L543.80,239.73 L545.80,237.15 L547.80,234.58 L549.80,232.04 L551.80,229.51 L553.81,227.00 L555.81,224.52 L557.81,222.05 L559.81,219.60 L561.81,217.17 L563.81,214.75 L565.81,212.35 L567.81,209.97 L569.81,207.60 L571.81,205.25 L573.81,202.91 L575.81,200.59 L577.81,198.29 L579.81,196.01 L581.81,193.75 L583.81,191.51 L585.81,189.30 L587.81,187.11 L589.82,184.94 L591.82,182.81 L593.82,180.70 L595.82,178.62 L597.82,176.57 L599.82,174.55 L601.82,172.57 L603.82,170.62 L605.82,168.70 L607.82,166.82 L609.82,164.98 L611.82,163.18 L613.82,161.42 L615.82,159.70 L617.82,158.03 L619.82,156.40 L621.82,154.82 L623.82,153.28 L625.83,151.80 L627.83,150.37 L629.83,148.99 L631.83,147.66 L633.83,146.39 L635.83,145.18 L637.83,144.03 L639.83,142.93 L641.83,141.90 L643.83,140.93 L645.83,140.02 L647.83,139.18 L649.83,138.41 L651.83,137.70 L653.83,137.05 L655.83,136.48 L657.83,135.97 L659.83,135.53 L661.84,135.16 L663.84,134.86 L665.84,134.63 L667.84,134.48 L669.84,134.39 L671.84,134.38 L673.84,134.45 L675.84,134.59 L677.84,134.80 L679.84,135.09 L681.84,135.46 L683.84,135.90 L685.84,136.42 L687.84,137.02 L689.84,137.69 L691.84,138.44 L693.84,139.27 L695.84,140.18 L697.85,141.17 L699.85,142.23 L701.85,143.37 L703.85,144.60 L705.85,145.90 L707.85,147.28 L709.85,148.74 L711.85,150.28 L713.85,151.90 L715.85,153.60 L717.85,155.38 L719.85,157.24 L721.85,159.18 L723.85,161.20 L725.85,163.30 L727.85,165.48 L729.85,167.73 L731.85,170.06 L733.86,172.47 L735.86,174.96 L737.86,177.52 L739.86,180.16 L741.86,182.88 L743.86,185.67 L745.86,188.54 L747.86,191.48 L749.86,194.50 L751.86,197.59 L753.86,200.75 L755.86,203.97 L757.86,207.24 L759.86,210.55 L761.86,213.90 L763.86,217.28 L765.86,220.69 L767.86,224.11 L769.87,227.53 L771.87,230.96 L773.87,234.38 L775.87,237.78 L777.87,241.16 L779.87,244.51 L781.87,247.82 L783.87,251.09 L785.87,254.30 L787.87,257.46 L789.87,260.57 L791.87,263.64 L793.87,266.69 L795.87,269.72 L797.87,272.76 L799.87,275.80 L801.87,278.87 L803.87,281.97 L805.88,285.12 L807.88,288.33 L809.88,291.61 L811.88,294.96 L813.88,298.42 L815.88,301.97 L817.88,305.65 L819.88,309.45 L821.88,313.40 L823.88,317.50 L825.88,321.76 L827.88,326.20 L829.88,330.83 L831.88,335.65 L833.88,340.69 L835.88,345.96 L837.88,351.46 L839.88,357.20 L841.89,363.21 L843.89,369.48 L845.89,376.04 L847.89,382.90 L849.89,390.06 L851.89,397.54 L853.89,405.34 L855.89,413.50 L857.89,422.00" stroke="#00f" stroke-width="2.8" fill="none" stroke-linejoin="round"/>
<g><polygon points="163.95,693.77 183.45,693.77 173.70,676.77" fill="#00f"/><polygon points="199.96,680.67 219.46,680.67 209.71,663.67" fill="#00f"/><polygon points="235.97,660.57 255.47,660.57 245.72,643.57" fill="#00f"/><polygon points="271.98,626.07 291.48,626.07 281.73,609.07" fill="#00f"/><polygon points="307.99,565.57 327.49,565.57 317.74,548.57" fill="#00f"/><polygon points="344.00,511.17 363.50,511.17 353.75,494.17" fill="#00f"/><polygon points="380.01,460.47 399.51,460.47 389.76,443.47" fill="#00f"/><polygon points="416.02,409.67 435.52,409.67 425.77,392.67" fill="#00f"/><polygon points="452.03,360.87 471.53,360.87 461.78,343.87" fill="#00f"/><polygon points="488.04,309.87 507.54,309.87 497.79,292.87" fill="#00f"/><polygon points="524.05,258.67 543.55,258.67 533.80,241.67" fill="#00f"/><polygon points="560.06,213.27 579.56,213.27 569.81,196.27" fill="#00f"/><polygon points="596.07,174.37 615.57,174.37 605.82,157.37" fill="#00f"/><polygon points="632.08,147.57 651.58,147.57 641.83,130.57" fill="#00f"/><polygon points="668.09,140.47 687.59,140.47 677.84,123.47" fill="#00f"/><polygon points="704.10,157.57 723.60,157.57 713.85,140.57" fill="#00f"/><polygon points="740.11,200.17 759.61,200.17 749.86,183.17" fill="#00f"/><polygon points="776.12,259.97 795.62,259.97 785.87,242.97" fill="#00f"/><polygon points="812.13,319.07 831.63,319.07 821.88,302.07" fill="#00f"/><polygon points="848.14,427.67 867.64,427.67 857.89,410.67" fill="#00f"/></g>
<path d="M173.70,687.50 L175.70,686.65 L177.70,685.82 L179.70,685.01 L181.70,684.22 L183.70,683.44 L185.70,682.67 L187.70,681.91 L189.70,681.17 L191.70,680.42 L193.71,679.68 L195.71,678.94 L197.71,678.20 L199.71,677.46 L201.71,676.71 L203.71,675.95 L205.71,675.18 L207.71,674.40 L209.71,673.60 L211.71,672.79 L213.71,671.95 L215.71,671.10 L217.71,670.22 L219.71,669.31 L221.71,668.38 L223.71,667.41 L225.71,666.41 L227.71,665.38 L229.72,664.31 L231.72,663.19 L233.72,662.04 L235.72,660.84 L237.72,659.60 L239.72,658.30 L241.72,656.96 L243.72,655.56 L245.72,654.10 L247.72,652.59 L249.72,651.01 L251.72,649.38 L253.72,647.68 L255.72,645.91 L257.72,644.08 L259.72,642.17 L261.72,640.19 L263.72,638.14 L265.73,636.01 L267.73,633.81 L269.73,631.52 L271.73,629.15 L273.73,626.70 L275.73,624.16 L277.73,621.53 L279.73,618.81 L281.73,616.00 L283.73,613.10 L285.73,610.11 L287.73,607.04 L289.73,603.90 L291.73,600.70 L293.73,597.45 L295.73,594.15 L297.73,590.82 L299.73,587.46 L301.74,584.07 L303.74,580.68 L305.74,577.28 L307.74,573.89 L309.74,570.51 L311.74,567.16 L313.74,563.83 L315.74,560.54 L317.74,557.30 L319.74,554.11 L321.74,550.97 L323.74,547.88 L325.74,544.84 L327.74,541.83 L329.74,538.87 L331.74,535.93 L333.74,533.03 L335.74,530.16 L337.75,527.31 L339.75,524.49 L341.75,521.68 L343.75,518.88 L345.75,516.10 L347.75,513.32 L349.75,510.55 L351.75,507.77 L353.75,505.00 L355.75,502.22 L357.75,499.44 L359.75,496.65 L361.75,493.85 L363.75,491.06 L365.75,488.26 L367.75,485.46 L369.75,482.66 L371.75,479.86 L373.76,477.06 L375.76,474.27 L377.76,471.47 L379.76,468.68 L381.76,465.89 L383.76,463.11 L385.76,460.33 L387.76,457.56 L389.76,454.80 L391.76,452.04 L393.76,449.29 L395.76,446.55 L397.76,443.82 L399.76,441.09 L401.76,438.37 L403.76,435.65 L405.76,432.93 L407.76,430.23 L409.77,427.52 L411.77,424.82 L413.77,422.13 L415.77,419.43 L417.77,416.74 L419.77,414.05 L421.77,411.37 L423.77,408.68 L425.77,406.00 L427.77,403.32 L429.77,400.64 L431.77,397.96 L433.77,395.28 L435.77,392.60 L437.77,389.92 L439.77,387.25 L441.77,384.58 L443.77,381.91 L445.78,379.24 L447.78,376.57 L449.78,373.91 L451.78,371.25 L453.78,368.60 L455.78,365.94 L457.78,363.29 L459.78,360.64 L461.78,358.00 L463.78,355.36 L465.78,352.72 L467.78,350.09 L469.78,347.46 L471.78,344.83 L473.78,342.20 L475.78,339.57 L477.78,336.94 L479.78,334.31 L481.79,331.67 L483.79,329.04 L485.79,326.40 L487.79,323.76 L489.79,321.12 L491.79,318.47 L493.79,315.82 L495.79,313.16 L497.79,310.50 L499.79,307.83 L501.79,305.16 L503.79,302.48 L505.79,299.80 L507.79,297.12 L509.79,294.44 L511.79,291.77 L513.79,289.10 L515.79,286.43 L517.80,283.78 L519.80,281.13 L521.80,278.49 L523.80,275.87 L525.80,273.26 L527.80,270.67 L529.80,268.09 L531.80,265.54 L533.80,263.00 L535.80,260.49 L537.80,257.99 L539.80,255.52 L541.80,253.08 L543.80,250.65 L545.80,248.24 L547.80,245.86 L549.80,243.50 L551.80,241.16 L553.81,238.84 L555.81,236.54 L557.81,234.26 L559.81,232.00 L561.81,229.76 L563.81,227.54 L565.81,225.34 L567.81,223.16 L569.81,221.00 L571.81,218.86 L573.81,216.74 L575.81,214.64 L577.81,212.56 L579.81,210.51 L581.81,208.48 L583.81,206.48 L585.81,204.50 L587.81,202.54 L589.82,200.62 L591.82,198.72 L593.82,196.85 L595.82,195.01 L597.82,193.20 L599.82,191.43 L601.82,189.69 L603.82,187.98 L605.82,186.30 L607.82,184.66 L609.82,183.06 L611.82,181.49 L613.82,179.97 L615.82,178.49 L617.82,177.05 L619.82,175.66 L621.82,174.32 L623.82,173.02 L625.83,171.78 L627.83,170.59 L629.83,169.46 L631.83,168.38 L633.83,167.36 L635.83,166.40 L637.83,165.50 L639.83,164.67 L641.83,163.90 L643.83,163.20 L645.83,162.57 L647.83,162.00 L649.83,161.50 L651.83,161.08 L653.83,160.72 L655.83,160.43 L657.83,160.21 L659.83,160.06 L661.84,159.98 L663.84,159.97 L665.84,160.03 L667.84,160.16 L669.84,160.36 L671.84,160.64 L673.84,160.99 L675.84,161.41 L677.84,161.90 L679.84,162.47 L681.84,163.10 L683.84,163.82 L685.84,164.60 L687.84,165.46 L689.84,166.39 L691.84,167.39 L693.84,168.47 L695.84,169.62 L697.85,170.85 L699.85,172.15 L701.85,173.52 L703.85,174.97 L705.85,176.48 L707.85,178.08 L709.85,179.74 L711.85,181.49 L713.85,183.30 L715.85,185.19 L717.85,187.15 L719.85,189.19 L721.85,191.29 L723.85,193.47 L725.85,195.72 L727.85,198.04 L729.85,200.43 L731.85,202.88 L733.86,205.41 L735.86,208.00 L737.86,210.66 L739.86,213.39 L741.86,216.18 L743.86,219.04 L745.86,221.96 L747.86,224.95 L749.86,228.00 L751.86,231.11 L753.86,234.28 L755.86,237.49 L757.86,240.75 L759.86,244.04 L761.86,247.36 L763.86,250.71 L765.86,254.06 L767.86,257.43 L769.87,260.79 L771.87,264.15 L773.87,267.49 L775.87,270.82 L777.87,274.12 L779.87,277.38 L781.87,280.60 L783.87,283.78 L785.87,286.90 L787.87,289.96 L789.87,292.97 L791.87,295.95 L793.87,298.89 L795.87,301.82 L797.87,304.74 L799.87,307.66 L801.87,310.60 L803.87,313.56 L805.88,316.56 L807.88,319.61 L809.88,322.72 L811.88,325.89 L813.88,329.15 L815.88,332.50 L817.88,335.95 L819.88,339.51 L821.88,343.20 L823.88,347.02 L825.88,350.99 L827.88,355.11 L829.88,359.41 L831.88,363.88 L833.88,368.54 L835.88,373.40 L837.88,378.47 L839.88,383.76 L841.89,389.29 L843.89,395.06 L845.89,401.09 L847.89,407.38 L849.89,413.94 L851.89,420.80 L853.89,427.95 L855.89,435.42 L857.89,443.20" stroke="#00f" stroke-width="2.8" fill="none" stroke-linejoin="round"/>
<g><path d="M166.50,680.30L180.90,694.70M166.50,694.70L180.90,680.30" stroke="#00f" stroke-width="2.6" fill="none"/><path d="M202.51,666.40L216.91,680.80M202.51,680.80L216.91,666.40" stroke="#00f" stroke-width="2.6" fill="none"/><path d="M238.52,646.90L252.92,661.30M238.52,661.30L252.92,646.90" stroke="#00f" stroke-width="2.6" fill="none"/><path d="M274.53,608.80L288.93,623.20M274.53,623.20L288.93,608.80" stroke="#00f" stroke-width="2.6" fill="none"/><path d="M310.54,550.10L324.94,564.50M310.54,564.50L324.94,550.10" stroke="#00f" stroke-width="2.6" fill="none"/><path d="M346.55,497.80L360.95,512.20M346.55,512.20L360.95,497.80" stroke="#00f" stroke-width="2.6" fill="none"/><path d="M382.56,447.60L396.96,462.00M382.56,462.00L396.96,447.60" stroke="#00f" stroke-width="2.6" fill="none"/><path d="M418.57,398.80L432.97,413.20M418.57,413.20L432.97,398.80" stroke="#00f" stroke-width="2.6" fill="none"/><path d="M454.58,350.80L468.98,365.20M454.58,365.20L468.98,350.80" stroke="#00f" stroke-width="2.6" fill="none"/><path d="M490.59,303.30L504.99,317.70M490.59,317.70L504.99,303.30" stroke="#00f" stroke-width="2.6" fill="none"/><path d="M526.60,255.80L541.00,270.20M526.60,270.20L541.00,255.80" stroke="#00f" stroke-width="2.6" fill="none"/><path d="M562.61,213.80L577.01,228.20M562.61,228.20L577.01,213.80" stroke="#00f" stroke-width="2.6" fill="none"/><path d="M598.62,179.10L613.02,193.50M598.62,193.50L613.02,179.10" stroke="#00f" stroke-width="2.6" fill="none"/><path d="M634.63,156.70L649.03,171.10M634.63,171.10L649.03,156.70" stroke="#00f" stroke-width="2.6" fill="none"/><path d="M670.64,154.70L685.04,169.10M670.64,169.10L685.04,154.70" stroke="#00f" stroke-width="2.6" fill="none"/><path d="M706.65,176.10L721.05,190.50M706.65,190.50L721.05,176.10" stroke="#00f" stroke-width="2.6" fill="none"/><path d="M742.66,220.80L757.06,235.20M742.66,235.20L757.06,220.80" stroke="#00f" stroke-width="2.6" fill="none"/><path d="M778.67,279.70L793.07,294.10M778.67,294.10L793.07,279.70" stroke="#00f" stroke-width="2.6" fill="none"/><path d="M814.68,336.00L829.08,350.40M814.68,350.40L829.08,336.00" stroke="#00f" stroke-width="2.6" fill="none"/><path d="M850.69,436.00L865.09,450.40M850.69,450.40L865.09,436.00" stroke="#00f" stroke-width="2.6" fill="none"/></g>
<path d="M293.1,711.8V363.2" stroke="#000" stroke-width="3" stroke-dasharray="8.4 9.86" fill="none"/>
<path d="M767.4,711.8V14.6" stroke="#000" stroke-width="3" stroke-dasharray="8.4 9.86" fill="none"/>
<text transform="translate(408.50,622.40) scale(1,1.020)" font-size="30.50" font-weight="normal" fill="#000" text-anchor="start">Active core region</text>
<path d="M392.00,618.10L298.30,617.21" stroke="#000" stroke-width="1.1" fill="none"/><polygon points="287.30,617.10 303.36,611.25 298.30,617.21 303.24,623.25" fill="#000"/>
<path d="M672.90,613.60L750.00,612.64" stroke="#000" stroke-width="1.1" fill="none"/><polygon points="761.00,612.50 745.08,618.70 750.00,612.64 744.93,606.70" fill="#000"/>
<path d="M129.2,57.00H174.7" stroke="#000" stroke-width="1.8"/>
<polygon points="146.40,47.25 146.40,66.75 163.20,57.00" fill="#000"/>
<text transform="translate(178.80,67.90) scale(1,1.000)" font-size="27.30" font-weight="bold" fill="#000" text-anchor="start">Column 6, W=2 mm</text>
<path d="M129.2,92.90H174.7" stroke="#000" stroke-width="1.8"/>
<rect x="145.65" y="86.55" width="12.70" height="12.70" fill="#000"/>
<text transform="translate(178.80,103.80) scale(1,1.000)" font-size="27.30" font-weight="bold" fill="#000" text-anchor="start">Column 7, W=2 mm</text>
<path d="M129.2,128.80H174.7" stroke="#f00" stroke-width="3.0"/>
<path d="M143.20,128.80H160.80M152.00,120.00V137.60" stroke="#f00" stroke-width="2.2" fill="none"/>
<text transform="translate(178.80,139.70) scale(1,1.000)" font-size="27.30" font-weight="bold" fill="#000" text-anchor="start">Column 6, W=3 mm</text>
<path d="M129.2,164.70H174.7" stroke="#f00" stroke-width="2.2"/>
<polygon points="152.00,153.20 160.75,164.70 152.00,176.20 143.25,164.70" fill="#f00"/>
<text transform="translate(178.80,175.60) scale(1,1.000)" font-size="27.30" font-weight="bold" fill="#000" text-anchor="start">Column 7, W=3 mm</text>
<path d="M129.2,200.60H174.7" stroke="#00f" stroke-width="1.8"/>
<polygon points="142.00,206.43 162.00,206.43 152.00,188.93" fill="#00f"/>
<text transform="translate(178.80,211.50) scale(1,1.000)" font-size="27.30" font-weight="bold" fill="#000" text-anchor="start">Column 6, W=4 mm</text>
<path d="M129.2,236.50H174.7" stroke="#00f" stroke-width="3.0"/>
<path d="M145.80,230.30L158.20,242.70M145.80,242.70L158.20,230.30" stroke="#00f" stroke-width="2.6" fill="none"/>
<text transform="translate(178.80,247.40) scale(1,1.000)" font-size="27.30" font-weight="bold" fill="#000" text-anchor="start">Column 7, W=4 mm</text>
</svg></body></html>
